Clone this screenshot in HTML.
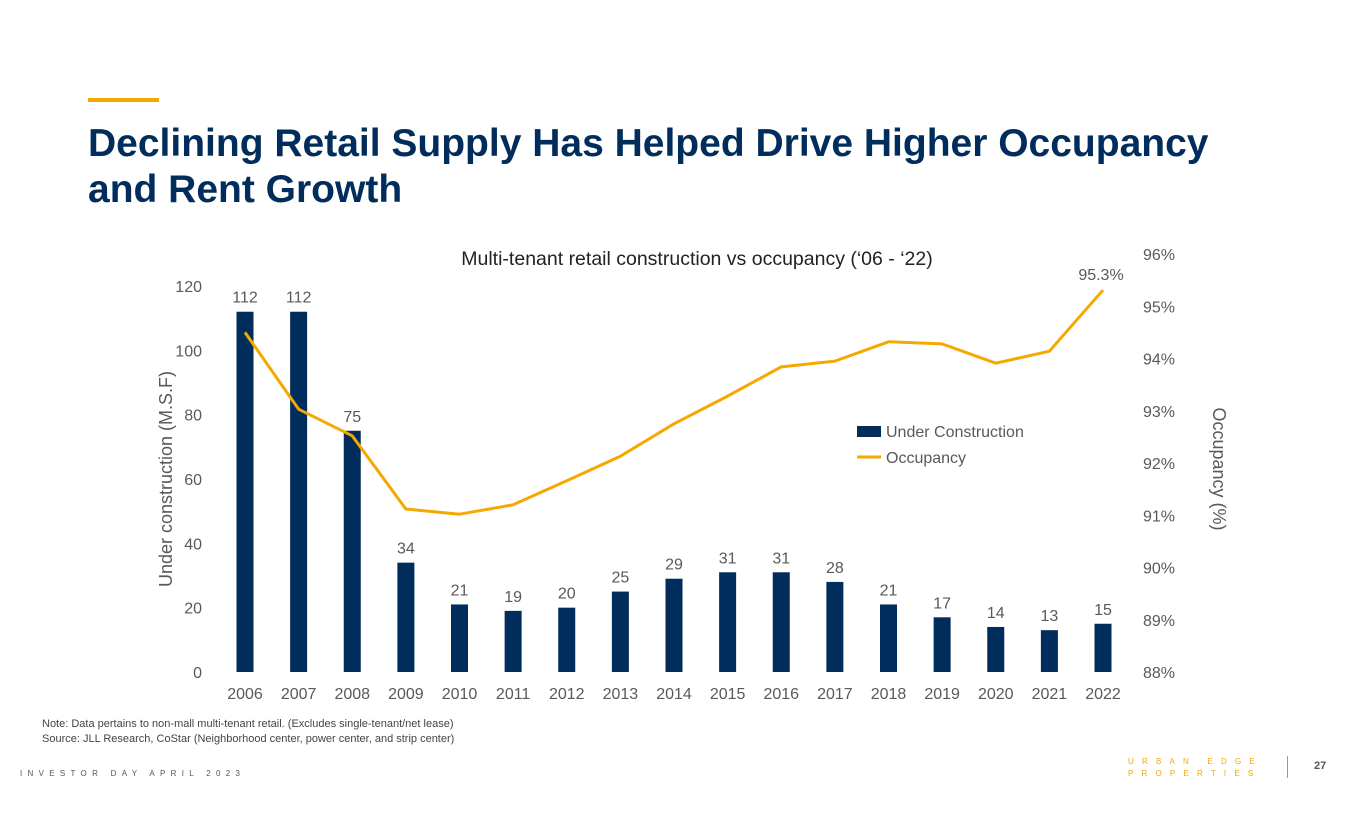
<!DOCTYPE html>
<html><head><meta charset="utf-8"><style>
body{margin:0;width:1365px;height:829px;background:#fff;font-family:"Liberation Sans",sans-serif;overflow:hidden;position:relative}
.abs{position:absolute}
</style></head><body>
<div class="abs" style="left:88px;top:98px;width:71px;height:4px;background:#f5a800"></div>
<div class="abs" style="left:88px;top:121px;font-size:39px;font-weight:bold;color:#002d5b;line-height:46px;width:1250px">Declining Retail Supply Has Helped Drive Higher Occupancy<br>and Rent Growth</div>
<svg class="abs" style="left:0;top:0" width="1365" height="829" id="chart" font-family="Liberation Sans, sans-serif">
<text x="697" y="265" text-anchor="middle" font-size="19.5" fill="#222">Multi-tenant retail construction vs occupancy (‘06 - ‘22)</text>
<text transform="translate(172,479) rotate(-90)" text-anchor="middle" font-size="18" fill="#595959">Under construction (M.S.F)</text>
<text transform="translate(1213,469) rotate(90)" text-anchor="middle" font-size="18" fill="#595959">Occupancy (%)</text>
<rect x="857" y="426" width="24" height="11" fill="#002d5b"/>
<text x="886" y="437" font-size="16" fill="#595959">Under Construction</text>
<line x1="857" y1="457" x2="881" y2="457" stroke="#f5a800" stroke-width="3"/>
<text x="886" y="463" font-size="16" fill="#595959">Occupancy</text>
</svg>
<div class="abs" style="left:42px;top:717px;font-size:11px;color:#444;line-height:15px">Note: Data pertains to non-mall multi-tenant retail. (Excludes single-tenant/net lease)<br>Source: JLL Research, CoStar (Neighborhood center, power center, and strip center)</div>
<div class="abs" style="left:20px;top:769px;font-size:8px;letter-spacing:5.3px;color:#555">INVESTOR DAY APRIL 2023</div>
<div class="abs" style="left:1128px;top:756px;font-size:8px;letter-spacing:8.2px;color:#f5a800;line-height:12px;white-space:nowrap">URBAN&nbsp;EDGE<br>PROPERTIES</div>
<div class="abs" style="left:1287px;top:756px;width:1px;height:22px;background:#999"></div>
<div class="abs" style="left:1314px;top:760px;font-size:11px;font-weight:bold;color:#555">27</div>
<script>
const years=["2006","2007","2008","2009","2010","2011","2012","2013","2014","2015","2016","2017","2018","2019","2020","2021","2022"];
const construction=[112,112,75,34,21,19,20,25,29,31,31,28,21,17,14,13,15];
const occupancy=[94.5,93.03,92.52,91.12,91.02,91.2,91.66,92.13,92.75,93.28,93.84,93.95,94.32,94.28,93.91,94.14,95.31];
const leftTicks=[0,20,40,60,80,100,120];
const rightTicks=[88,89,90,91,92,93,94,95,96];
const svg=document.getElementById('chart');const NS='http://www.w3.org/2000/svg';
const x=i=>245+i*53.625;
const yL=v=>672-v*(386/120);
const yR=v=>672-(v-88)*52.25;
function mk(t,a,txt){const e=document.createElementNS(NS,t);for(const k in a)e.setAttribute(k,a[k]);if(txt!=null)e.textContent=txt;svg.appendChild(e);return e;}
leftTicks.forEach(v=>{const e=mk('text',{x:202,y:yL(v)+6,'text-anchor':'end','font-size':16,fill:'#595959'},v);

});
rightTicks.forEach(v=>{const e=mk('text',{x:1143,y:yR(v)+6,'font-size':16,fill:'#595959'},v+'%');

});
years.forEach((yr,i)=>{
const h=672-yL(construction[i]);
const b=mk('rect',{x:x(i)-8.5,y:yL(construction[i]),width:17,height:h,fill:'#002d5b'});


const l=mk('text',{x:x(i),y:yL(construction[i])-9,'text-anchor':'middle','font-size':16,fill:'#595959'},construction[i]);


const t=mk('text',{x:x(i),y:699,'text-anchor':'middle','font-size':16,fill:'#595959'},yr);


});
const ln=mk('polyline',{points:occupancy.map((v,i)=>x(i)+','+yR(v)).join(' '),fill:'none',stroke:'#f5a800','stroke-width':3,'stroke-linejoin':'round'});


const last=occupancy.length-1;
const ll=mk('text',{x:x(last)-2,y:yR(occupancy[last])-10,'text-anchor':'middle','font-size':16,fill:'#595959'},occupancy[last].toFixed(1)+'%');


</script>
</body></html>
